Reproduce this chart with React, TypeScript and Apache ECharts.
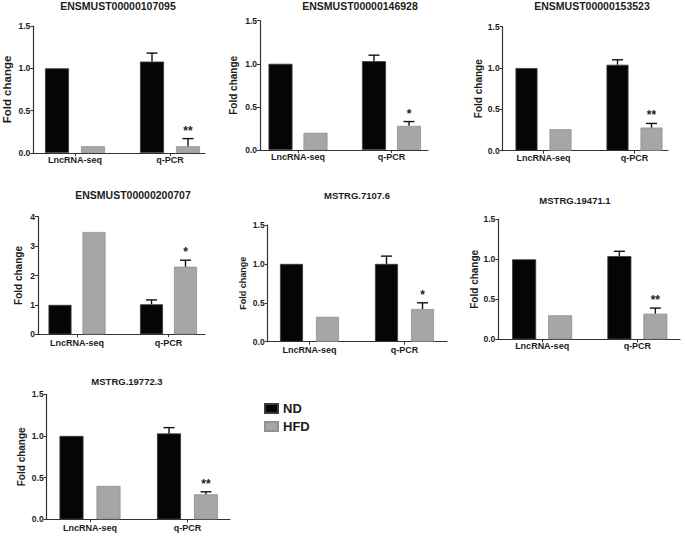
import React, { useEffect, useRef } from "react";
import * as echarts from "echarts";

// ---------- data ----------
const titles = [
  "ENSMUST00000107095",
  "ENSMUST00000146928",
  "ENSMUST00000153523",
  "ENSMUST00000200707",
  "MSTRG.7107.6",
  "MSTRG.19471.1",
  "MSTRG.19772.3",
];
const categories = ["LncRNA-seq", "q-PCR"];
const groupNames = ["ND", "HFD"];
const ndValues = [
  [1.0, 1.08],
  [1.0, 1.03],
  [1.0, 1.04],
  [1.0, 1.02],
  [1.0, 1.0],
  [1.0, 1.04],
  [1.0, 1.03],
];
const hfdValues = [
  [0.08, 0.08],
  [0.2, 0.28],
  [0.26, 0.28],
  [3.48, 2.3],
  [0.32, 0.42],
  [0.3, 0.32],
  [0.4, 0.3],
];
const ndErrors = [0.1, 0.07, 0.06, 0.15, 0.1, 0.06, 0.07];
const hfdErrors = [0.09, 0.05, 0.05, 0.22, 0.08, 0.07, 0.03];
const significance = ["**", "*", "**", "*", "*", "**", "**"];
const yMax = [1.5, 1.5, 1.5, 4, 1.5, 1.5, 1.5];
const yStep = [0.5, 0.5, 0.5, 1, 0.5, 0.5, 0.5];
const yName = "Fold change";

// ---------- layout (positions / sizes) ----------
const layout = [
  { axisX: 31, top: 26, bottom: 153, end: 205, c1: 75, c2: 170, bw: 24, gap: 12, tx: 118, ty: 6, ts: 10.5, ns: 11.5, nd: 26, lm: 2 },
  { axisX: 260, top: 20.7, bottom: 150, end: 428, c1: 298, c2: 391.5, bw: 24, gap: 11, tx: 360, ty: 6, ts: 10.5, ns: 10, nd: 27, lm: 2 },
  { axisX: 502.7, top: 26.7, bottom: 150.7, end: 668, c1: 543.5, c2: 634.5, bw: 22, gap: 12, tx: 592, ty: 6, ts: 10.5, ns: 10, nd: 24.4, lm: 3 },
  { axisX: 38, top: 216.7, bottom: 334.3, end: 205, c1: 77, c2: 168.5, bw: 23, gap: 11, tx: 133, ty: 195, ts: 10.5, ns: 10, nd: 20, lm: 4 },
  { axisX: 267.7, top: 225, bottom: 341.7, end: 447, c1: 309.5, c2: 404.5, bw: 23, gap: 13, tx: 357, ty: 195, ts: 9.5, ns: 9, nd: 25, lm: 4 },
  { axisX: 498.3, top: 219.3, bottom: 339.3, end: 680, c1: 543, c2: 640, bw: 24, gap: 12, tx: 575, ty: 200, ts: 9.5, ns: 10, nd: 23.3, lm: 2 },
  { axisX: 46.7, top: 394.3, bottom: 519.3, end: 230, c1: 90, c2: 187.5, bw: 24, gap: 13, tx: 127, ty: 381, ts: 9.5, ns: 10, nd: 25, lm: 4 },
];

const FONT = "'Liberation Sans', Arial, sans-serif";
const TEXT = "#1c1c1c";
const AXIS = "#333333";
const ND_COLOR = "#050505";
const HFD_COLOR = "#a6a6a6";

function buildOption() {
  const grid: any[] = [];
  const xAxis: any[] = [];
  const yAxis: any[] = [];
  const series: any[] = [];
  const graphic: any[] = [];

  titles.forEach((title, i) => {
    const L = layout[i];
    const band = L.c2 - L.c1;
    const h = L.bottom - L.top;
    const a = 2 * i; // bar grid
    const b = 2 * i + 1; // frame grid
    grid.push({ left: L.c1 - band / 2, top: L.top, width: 2 * band, height: h });
    grid.push({ left: L.axisX, top: L.top, width: L.end - L.axisX, height: h });

    xAxis.push({
      type: "category",
      gridIndex: a,
      data: categories,
      axisLine: { show: false },
      axisTick: { show: true, alignWithLabel: true, length: 3, lineStyle: { color: AXIS, width: 1 } },
      axisLabel: { margin: L.lm, fontSize: 9, fontWeight: "bold", color: TEXT, fontFamily: FONT },
      splitLine: { show: false },
    });
    xAxis.push({
      type: "value",
      gridIndex: b,
      min: 0,
      max: 1,
      axisLine: { show: true, lineStyle: { color: AXIS, width: 1.2 } },
      axisTick: { show: false },
      axisLabel: { show: false },
      splitLine: { show: false },
    });
    yAxis.push({ type: "value", gridIndex: a, min: 0, max: yMax[i], interval: yStep[i], show: false });
    yAxis.push({
      type: "value",
      gridIndex: b,
      min: 0,
      max: yMax[i],
      interval: yStep[i],
      axisLine: { show: true, lineStyle: { color: AXIS, width: 1.2 } },
      axisTick: { show: true, length: 3, lineStyle: { color: AXIS, width: 1 } },
      axisLabel: {
        margin: 3,
        fontSize: 8.5,
        fontWeight: "bold",
        color: TEXT,
        fontFamily: FONT,
        formatter: (v: number) => (yStep[i] < 1 ? v.toFixed(1) : String(v)),
      },
      splitLine: { show: false },
      name: yName,
      nameLocation: "middle",
      nameRotate: 90,
      nameGap: L.nd - L.ns / 2,
      nameTextStyle: { fontSize: L.ns, fontWeight: "bold", color: TEXT, fontFamily: FONT },
    });

    series.push({
      type: "bar",
      name: groupNames[0],
      xAxisIndex: a,
      yAxisIndex: a,
      data: ndValues[i],
      barWidth: L.bw,
      barGap: (L.gap / L.bw) * 100 + "%",
      itemStyle: { color: ND_COLOR, borderColor: "#3a3a3a", borderWidth: 0.8 },
      z: 2,
    });
    series.push({
      type: "bar",
      name: groupNames[1],
      xAxisIndex: a,
      yAxisIndex: a,
      data: hfdValues[i],
      barWidth: L.bw,
      barGap: (L.gap / L.bw) * 100 + "%",
      itemStyle: { color: HFD_COLOR, borderColor: "#919191", borderWidth: 0.8 },
      z: 2,
    });

    const offset = (L.bw + L.gap) / 2;
    series.push({
      type: "custom",
      xAxisIndex: a,
      yAxisIndex: a,
      z: 4,
      silent: true,
      data: [
        [1, ndValues[i][1], ndValues[i][1] + ndErrors[i], 0],
        [1, hfdValues[i][1], hfdValues[i][1] + hfdErrors[i], 1],
      ],
      renderItem: (params: any, api: any) => {
        const cat = api.value(0);
        const base = api.coord([cat, api.value(1)]);
        const tip = api.coord([cat, api.value(2)]);
        const x = base[0] + (api.value(3) === 0 ? -offset : offset);
        const st = { stroke: "#111", lineWidth: 1.4 };
        return {
          type: "group",
          children: [
            { type: "line", shape: { x1: x, y1: base[1], x2: x, y2: tip[1] }, style: st },
            { type: "line", shape: { x1: x - 5.5, y1: tip[1], x2: x + 5.5, y2: tip[1] }, style: st },
          ],
        };
      },
    });
    series.push({
      type: "custom",
      xAxisIndex: a,
      yAxisIndex: a,
      z: 4,
      silent: true,
      data: [[1, hfdValues[i][1] + hfdErrors[i]]],
      renderItem: (params: any, api: any) => {
        const p = api.coord([api.value(0), api.value(1)]);
        return {
          type: "text",
          x: p[0] + offset,
          y: p[1] - 8,
          style: {
            text: significance[i],
            align: "center",
            verticalAlign: "middle",
            fontSize: 12,
            fontWeight: "bold",
            fontFamily: FONT,
            fill: TEXT,
          },
        };
      },
    });

    graphic.push({
      type: "text",
      x: L.tx,
      y: L.ty,
      style: {
        text: title,
        align: "center",
        verticalAlign: "middle",
        fontSize: L.ts,
        fontWeight: "bold",
        fontFamily: FONT,
        fill: TEXT,
      },
    });
  });

  return {
    animation: false,
    backgroundColor: "#ffffff",
    grid,
    xAxis,
    yAxis,
    series,
    graphic,
    legend: {
      data: groupNames,
      orient: "vertical",
      left: 259,
      top: 397,
      itemWidth: 13,
      itemHeight: 9,
      itemGap: 5,
      icon: "rect",
      selectedMode: false,
      textStyle: { fontSize: 13, fontWeight: "bold", color: TEXT, fontFamily: FONT, lineHeight: 13 },
    },
  };
}

export default function App() {
  const ref = useRef<HTMLDivElement>(null);
  useEffect(() => {
    if (!ref.current) return;
    const chart = echarts.init(ref.current, undefined, { renderer: "svg" });
    chart.setOption(buildOption() as any);
    return () => chart.dispose();
  }, []);
  return (
    <div
      ref={ref}
      style={{ position: "fixed", left: 0, top: 0, width: 685, height: 536, background: "#fff" }}
    />
  );
}
